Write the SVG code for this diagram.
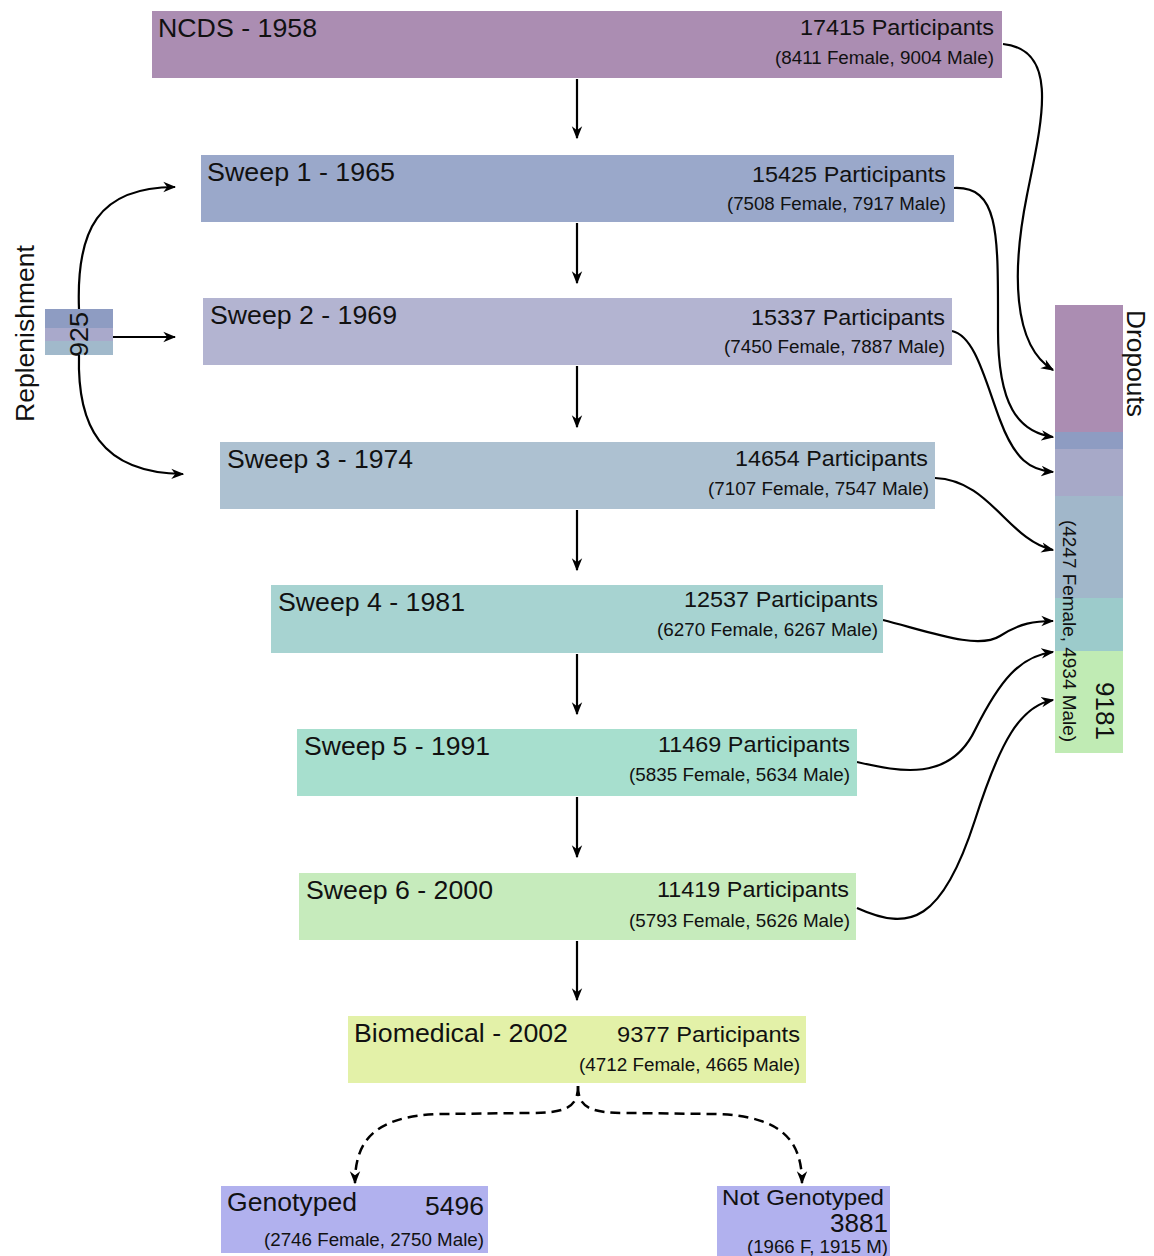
<svg xmlns="http://www.w3.org/2000/svg" width="1154" height="1256" viewBox="0 0 1154 1256">
<defs>
<style>
text{font-family:"Liberation Sans",Arial,sans-serif;fill:#111;}
.t{font-size:25px;}
.p{font-size:22px;text-anchor:end;}
.s{font-size:17.5px;text-anchor:end;}
.c{fill:none;stroke:#000;stroke-width:2.2;marker-end:url(#arr);}
.d{fill:none;stroke:#000;stroke-width:2.5;stroke-dasharray:10 6;marker-end:url(#arr);}
</style>
<marker id="arr" viewBox="0 0 10 10" refX="9" refY="5" markerWidth="13" markerHeight="13" markerUnits="userSpaceOnUse" orient="auto">
<path d="M0,1 L10,5 L0,9 L3,5 Z" fill="#000"/>
</marker>
</defs>
<rect width="1154" height="1256" fill="#fff"/>

<g id="connectors">
<path class="c" d="M577,79 L577,138"/>
<path class="c" d="M577,223 L577,283"/>
<path class="c" d="M577,366 L577,427"/>
<path class="c" d="M577,510 L577,570"/>
<path class="c" d="M577,654 L577,714"/>
<path class="c" d="M577,797 L577,857"/>
<path class="c" d="M577,941 L577,1000"/>
<path class="d" d="M578,1086 C578,1108 565,1113 530,1113 L440,1114 C375,1116 355,1140 355,1183"/>
<path class="d" d="M578,1086 C578,1108 591,1113 626,1113 L716,1114 C781,1116 802,1140 802,1183"/>
<path class="c" d="M1003,44 C1060,50 1042,120 1027,195 C1012,270 1012,345 1053,370"/>
<path class="c" d="M954,188 C1000,186 998,235 998,330 C998,405 1018,432 1053,437"/>
<path class="c" d="M952,331 C975,336 985,380 1000,420 C1015,460 1030,470 1053,472"/>
<path class="c" d="M935,478 C990,480 1008,540 1053,550"/>
<path class="c" d="M883,620 C930,632 978,650 1000,636 C1020,623 1035,621 1053,621"/>
<path class="c" d="M857,762 C900,772 950,782 975,730 C1000,680 1020,656 1053,652"/>
<path class="c" d="M857,908 C910,932 942,922 975,820 C1000,742 1020,706 1053,700"/>
<path class="c" d="M79,309 C76,230 98,187 175,187"/>
<path class="c" d="M113,337 L175,337"/>
<path class="c" d="M79,355 C77,425 100,473 183,474"/>
</g>

<g id="ncds">
<rect x="152" y="11" width="850" height="67" fill="#ab8db2"/>
<text class="t" x="158" y="37" textLength="159" lengthAdjust="spacingAndGlyphs">NCDS - 1958</text>
<text class="p" x="994" y="35" textLength="194" lengthAdjust="spacingAndGlyphs">17415 Participants</text>
<text class="s" x="994" y="64" textLength="219" lengthAdjust="spacingAndGlyphs">(8411 Female, 9004 Male)</text>
</g>
<g id="sweep1">
<rect x="201" y="155" width="753" height="67" fill="#9aa8ca"/>
<text class="t" x="207" y="181" textLength="188" lengthAdjust="spacingAndGlyphs">Sweep 1 - 1965</text>
<text class="p" x="946" y="182" textLength="194" lengthAdjust="spacingAndGlyphs">15425 Participants</text>
<text class="s" x="946" y="210" textLength="219" lengthAdjust="spacingAndGlyphs">(7508 Female, 7917 Male)</text>
</g>
<g id="sweep2">
<rect x="203" y="298" width="749" height="67" fill="#b3b4d1"/>
<text class="t" x="210" y="324" textLength="187" lengthAdjust="spacingAndGlyphs">Sweep 2 - 1969</text>
<text class="p" x="945" y="325" textLength="194" lengthAdjust="spacingAndGlyphs">15337 Participants</text>
<text class="s" x="945" y="353" textLength="221" lengthAdjust="spacingAndGlyphs">(7450 Female, 7887 Male)</text>
</g>
<g id="sweep3">
<rect x="220" y="442" width="715" height="67" fill="#adc1d1"/>
<text class="t" x="227" y="468" textLength="186" lengthAdjust="spacingAndGlyphs">Sweep 3 - 1974</text>
<text class="p" x="928" y="466" textLength="193" lengthAdjust="spacingAndGlyphs">14654 Participants</text>
<text class="s" x="929" y="495" textLength="221" lengthAdjust="spacingAndGlyphs">(7107 Female, 7547 Male)</text>
</g>
<g id="sweep4">
<rect x="271" y="585" width="612" height="68" fill="#a7d3d1"/>
<text class="t" x="278" y="611" textLength="187" lengthAdjust="spacingAndGlyphs">Sweep 4 - 1981</text>
<text class="p" x="878" y="607" textLength="194" lengthAdjust="spacingAndGlyphs">12537 Participants</text>
<text class="s" x="878" y="636" textLength="221" lengthAdjust="spacingAndGlyphs">(6270 Female, 6267 Male)</text>
</g>
<g id="sweep5">
<rect x="297" y="729" width="560" height="67" fill="#a7dfce"/>
<text class="t" x="304" y="755" textLength="186" lengthAdjust="spacingAndGlyphs">Sweep 5 - 1991</text>
<text class="p" x="850" y="752" textLength="192" lengthAdjust="spacingAndGlyphs">11469 Participants</text>
<text class="s" x="850" y="781" textLength="221" lengthAdjust="spacingAndGlyphs">(5835 Female, 5634 Male)</text>
</g>
<g id="sweep6">
<rect x="299" y="873" width="557" height="67" fill="#c6ebbc"/>
<text class="t" x="306" y="899" textLength="187" lengthAdjust="spacingAndGlyphs">Sweep 6 - 2000</text>
<text class="p" x="849" y="897" textLength="192" lengthAdjust="spacingAndGlyphs">11419 Participants</text>
<text class="s" x="850" y="927" textLength="221" lengthAdjust="spacingAndGlyphs">(5793 Female, 5626 Male)</text>
</g>
<g id="biomedical">
<rect x="348" y="1016" width="458" height="67" fill="#e3f1a8"/>
<text class="t" x="354" y="1042" textLength="214" lengthAdjust="spacingAndGlyphs">Biomedical - 2002</text>
<text class="p" x="800" y="1042" textLength="183" lengthAdjust="spacingAndGlyphs">9377 Participants</text>
<text class="s" x="800" y="1071" textLength="221" lengthAdjust="spacingAndGlyphs">(4712 Female, 4665 Male)</text>
</g>
<g id="genotyped">
<rect x="221" y="1186" width="267" height="67" fill="#b1b1ee"/>
<text class="t" x="227" y="1211" textLength="130" lengthAdjust="spacingAndGlyphs">Genotyped</text>
<text class="t" x="484" y="1215" text-anchor="end" textLength="59" lengthAdjust="spacingAndGlyphs">5496</text>
<text class="s" x="484" y="1246" textLength="220" lengthAdjust="spacingAndGlyphs">(2746 Female, 2750 Male)</text>
</g>
<g id="notgenotyped">
<rect x="717" y="1186" width="173" height="70" fill="#b1b1ee"/>
<text class="p" x="884" y="1205" textLength="162" lengthAdjust="spacingAndGlyphs">Not Genotyped</text>
<text class="t" x="888" y="1232" text-anchor="end" textLength="58" lengthAdjust="spacingAndGlyphs">3881</text>
<text class="s" x="888" y="1253" textLength="141" lengthAdjust="spacingAndGlyphs">(1966 F, 1915 M)</text>
</g>

<g id="replenishment">
<rect x="45" y="309" width="68" height="19" fill="#8e9cc2"/>
<rect x="45" y="328" width="68" height="13" fill="#a9a9cb"/>
<rect x="45" y="341" width="68" height="14" fill="#a1b9cb"/>
<text class="t" transform="translate(88,357) rotate(-90)" textLength="45" lengthAdjust="spacingAndGlyphs">925</text>
<text class="t" transform="translate(34,422) rotate(-90)" textLength="177" lengthAdjust="spacingAndGlyphs">Replenishment</text>
</g>

<g id="dropouts">
<rect x="1055" y="305" width="68" height="127" fill="#ab8db2"/>
<rect x="1055" y="432" width="68" height="17" fill="#8e9cc2"/>
<rect x="1055" y="449" width="68" height="47" fill="#a7a9c8"/>
<rect x="1055" y="496" width="68" height="102" fill="#a1b7ca"/>
<rect x="1055" y="598" width="68" height="53" fill="#9ccbcb"/>
<rect x="1055" y="651" width="68" height="102" fill="#c0ebb4"/>
<text class="t" transform="translate(1127,310) rotate(90)" textLength="107" lengthAdjust="spacingAndGlyphs">Dropouts</text>
<text style="font-size:17.5px" transform="translate(1063,520) rotate(90)" textLength="222" lengthAdjust="spacingAndGlyphs">(4247 Female, 4934 Male)</text>
<text class="t" transform="translate(1096,682) rotate(90)" textLength="58" lengthAdjust="spacingAndGlyphs">9181</text>
</g>
</svg>
